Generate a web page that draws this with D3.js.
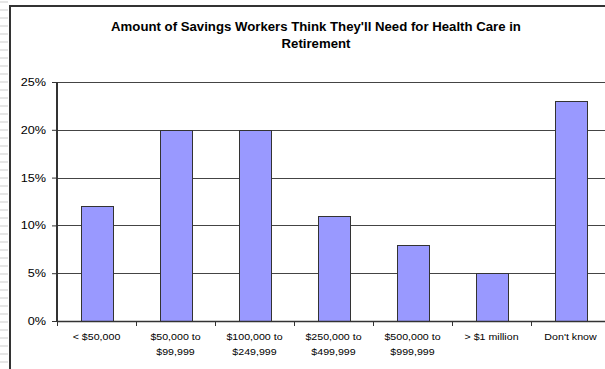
<!DOCTYPE html>
<html>
<head>
<meta charset="utf-8">
<script src="https://cdn.jsdelivr.net/npm/d3@7"></script>
<style>
  html, body { margin: 0; padding: 0; background: #fff; overflow: hidden; }
  svg { display: block; font-family: "Liberation Sans", Arial, sans-serif; }
</style>
</head>
<body>
<svg id="chart" width="605" height="369"></svg>
<script>
// Survey categories and share of workers per savings range
const categories = ["< $50,000", "$50,000 to\n$99,999", "$100,000 to\n$249,999", "$250,000 to\n$499,999", "$500,000 to\n$999,999", "> $1 million", "Don't know"];
const shares = [0.12, 0.20, 0.20, 0.11, 0.08, 0.05, 0.23];
const yTicks = [0, 0.05, 0.10, 0.15, 0.20, 0.25];
const titleLines = ["Amount of Savings Workers Think They'll Need for Health Care in", "Retirement"];

const svg = d3.select("#chart");
const W = 605, H = 369;

// faint worksheet rows to the left of the chart frame
const rows = d3.range(1, H, 8);
svg.selectAll("rect.row").data(rows).join("rect")
  .attr("class", "row")
  .attr("x", 0).attr("y", d => d).attr("width", 8).attr("height", 2)
  .attr("fill", "#e6e6e6");

// chart frame: left and top edges (the rest lies outside the window)
svg.append("path")
  .attr("d", `M10,${H} L10,6 L${W},6`)
  .attr("fill", "none").attr("stroke", "#333").attr("stroke-width", 2);

const plot = { left: 57, right: 610, top: 82, bottom: 321 };

const x = d3.scaleBand()
  .domain(categories)
  .range([plot.left, plot.right])
  .paddingInner(0.6)
  .paddingOuter(0.3);

const y = d3.scaleLinear()
  .domain([0, 0.25])
  .range([plot.bottom, plot.top]);

// horizontal gridlines
svg.append("g").selectAll("line").data(yTicks.slice(1)).join("line")
  .attr("x1", plot.left).attr("x2", W)
  .attr("y1", d => Math.round(y(d)) + 0.5).attr("y2", d => Math.round(y(d)) + 0.5)
  .attr("stroke", "#444").attr("stroke-width", 1);

// bars
svg.append("g").selectAll("rect").data(shares).join("rect")
  .attr("x", (d, i) => Math.round(x(categories[i])) + 0.5)
  .attr("y", d => Math.round(y(d)) + 0.5)
  .attr("width", Math.round(x.bandwidth()))
  .attr("height", d => Math.round(y(0)) - Math.round(y(d)))
  .attr("fill", "#9999ff")
  .attr("stroke", "#333").attr("stroke-width", 1);

// y axis
const yAxis = d3.axisLeft(y)
  .tickValues(yTicks)
  .tickFormat(d3.format(".0%"))
  .tickSize(5)
  .tickPadding(6);
const gy = svg.append("g")
  .attr("transform", `translate(${plot.left},0)`)
  .call(yAxis);
gy.select(".domain").remove();
gy.selectAll(".tick line").attr("stroke", "#333");
gy.selectAll(".tick text")
  .attr("font-size", 11).attr("fill", "#000")
  .attr("font-family", "Liberation Sans, Arial, sans-serif")
  .attr("x", 0)
  .attr("transform", "translate(-11,0) scale(1.15,1)");
gy.append("line")
  .attr("x1", 0).attr("x2", 0)
  .attr("y1", plot.top).attr("y2", plot.bottom + 1)
  .attr("stroke", "#333").attr("stroke-width", 2);

// x axis baseline and ticks between categories
const step = x.step();
const boundaries = d3.range(categories.length + 1).map(i => x(categories[0]) - step * x.paddingOuter() + i * step);
svg.append("line")
  .attr("x1", plot.left).attr("x2", W)
  .attr("y1", Math.round(y(0)) + 0.5).attr("y2", Math.round(y(0)) + 0.5)
  .attr("stroke", "#333").attr("stroke-width", 1.5);
svg.append("g").selectAll("line").data(boundaries).join("line")
  .attr("x1", d => Math.round(d) + 0.5).attr("x2", d => Math.round(d) + 0.5)
  .attr("y1", Math.round(y(0))).attr("y2", Math.round(y(0)) + 5)
  .attr("stroke", "#333");

// category labels
const xl = svg.append("g").selectAll("text").data(categories).join("text")
  .attr("transform", d => `translate(${x(d) + x.bandwidth() / 2},340) scale(1.12,1)`)
  .attr("text-anchor", "middle")
  .attr("font-size", 9.5)
  .attr("fill", "#000");
xl.each(function(d) {
  const t = d3.select(this);
  d.split("\n").forEach((line, i) => {
    t.append("tspan").attr("x", 0).attr("dy", i === 0 ? 0 : 15).text(line);
  });
});

// title
svg.append("g").selectAll("text").data(titleLines).join("text")
  .attr("transform", (d, i) => `translate(316,${31 + i * 17}) scale(1.1,1)`)
  .attr("text-anchor", "middle")
  .attr("font-size", 12)
  .attr("font-weight", "bold")
  .attr("fill", "#000")
  .text(d => d);
</script>
</body>
</html>
